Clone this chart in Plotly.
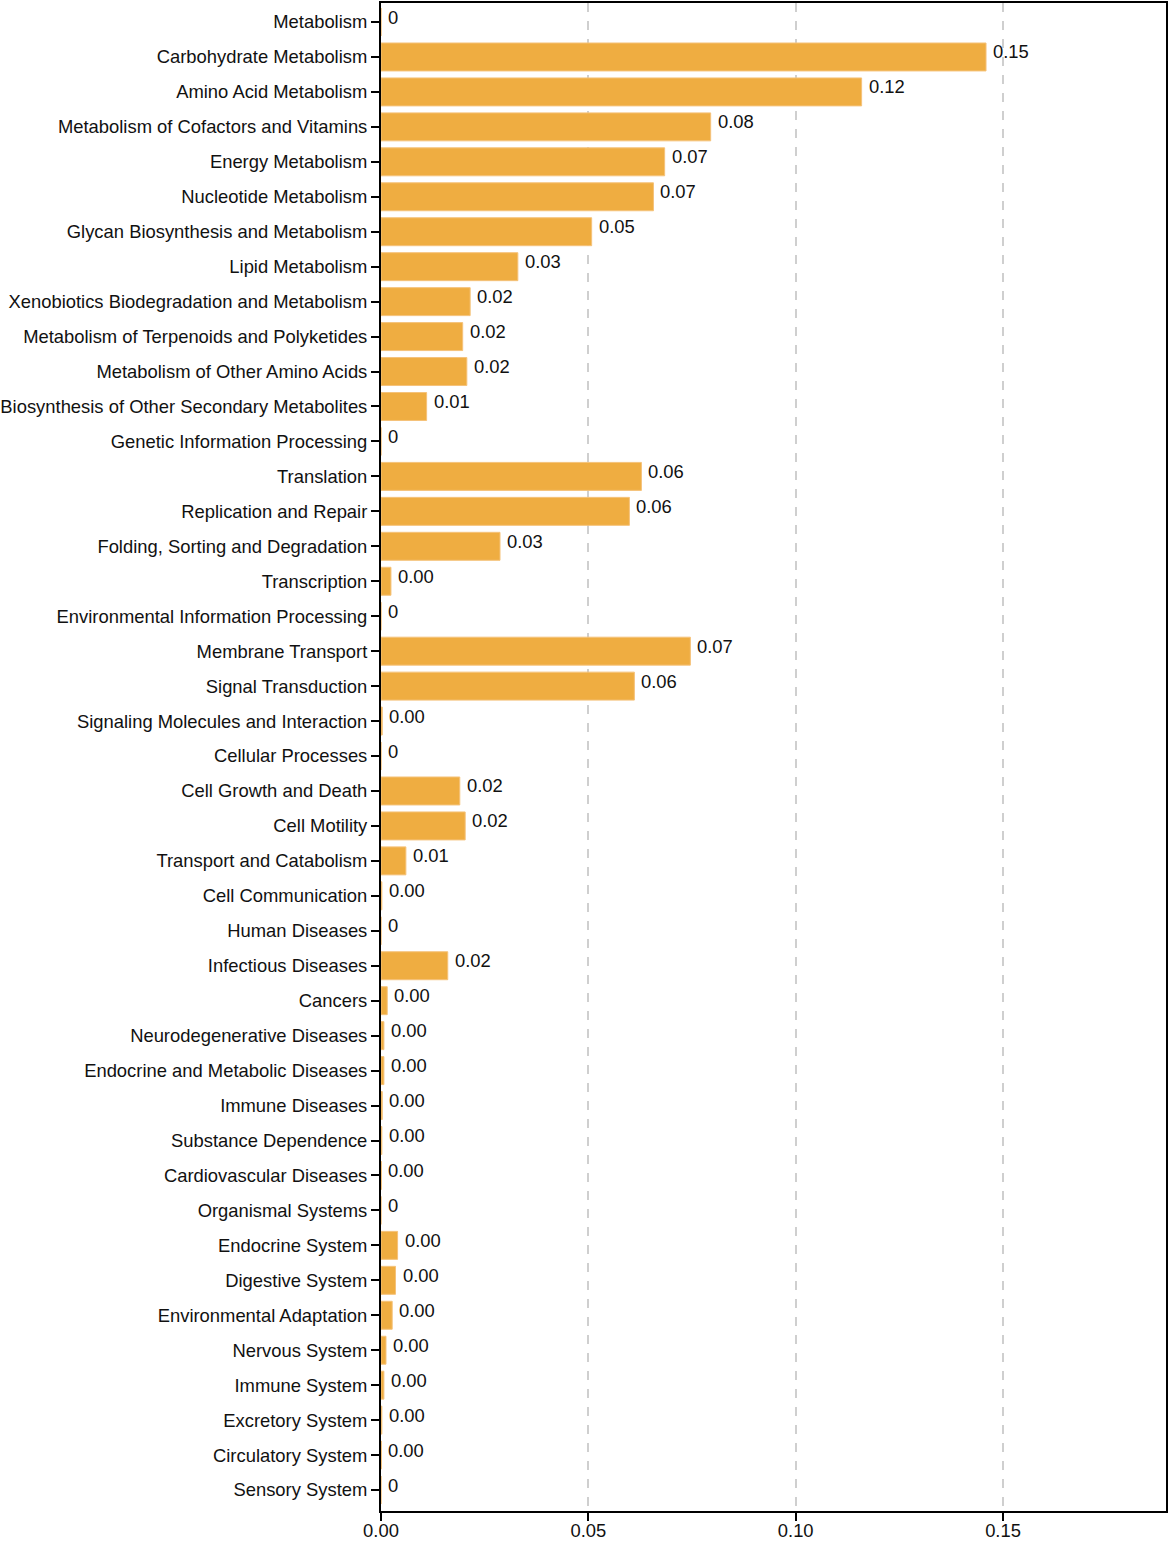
import plotly.graph_objects as go

# categories, top to bottom
categories = [
    "Metabolism", "Carbohydrate Metabolism", "Amino Acid Metabolism",
    "Metabolism of Cofactors and Vitamins", "Energy Metabolism", "Nucleotide Metabolism",
    "Glycan Biosynthesis and Metabolism", "Lipid Metabolism",
    "Xenobiotics Biodegradation and Metabolism", "Metabolism of Terpenoids and Polyketides",
    "Metabolism of Other Amino Acids", "Biosynthesis of Other Secondary Metabolites",
    "Genetic Information Processing", "Translation", "Replication and Repair",
    "Folding, Sorting and Degradation", "Transcription",
    "Environmental Information Processing", "Membrane Transport", "Signal Transduction",
    "Signaling Molecules and Interaction",
    "Cellular Processes", "Cell Growth and Death", "Cell Motility",
    "Transport and Catabolism", "Cell Communication",
    "Human Diseases", "Infectious Diseases", "Cancers", "Neurodegenerative Diseases",
    "Endocrine and Metabolic Diseases", "Immune Diseases", "Substance Dependence",
    "Cardiovascular Diseases",
    "Organismal Systems", "Endocrine System", "Digestive System",
    "Environmental Adaptation", "Nervous System", "Immune System", "Excretory System",
    "Circulatory System", "Sensory System",
]

values = [
    0, 0.1459, 0.1159,
    0.0795, 0.0684, 0.0657,
    0.0508, 0.0330,
    0.0215, 0.0197,
    0.0207, 0.0110,
    0, 0.0628, 0.0599,
    0.0287, 0.0024,
    0, 0.0746, 0.0611,
    0.0003,
    0, 0.0190, 0.0203,
    0.0060, 0.0002,
    0, 0.0161, 0.0015, 0.0007,
    0.0007, 0.0003, 0.0002,
    0.0001,
    0, 0.0040, 0.0035,
    0.0027, 0.0012, 0.0007, 0.0002,
    0.0001, 0,
]

labels = ["0" if v == 0 else f"{v:.2f}" for v in values]

bar_color = "#EFAD41"
font_family = "Arial, Liberation Sans, sans-serif"
font_size = 18.4

fig = go.Figure()
fig.add_trace(go.Bar(
    x=values, y=categories, orientation="h",
    marker=dict(color=bar_color, line=dict(color="#F5C27A", width=1)),
    width=0.8,
    hoverinfo="x+y",
))

# value labels just right of the bars, nudged up a bit like the original
for cat, v, t in zip(categories, values, labels):
    fig.add_annotation(
        x=v, y=cat, text=t, showarrow=False,
        xanchor="left", yanchor="middle", xshift=5, yshift=5,
        font=dict(size=font_size, color="#111111", family=font_family),
    )

fig.update_xaxes(
    range=[0, 0.1893],
    tickvals=[0, 0.05, 0.10, 0.15],
    ticktext=["0.00", "0.05", "0.10", "0.15"],
    ticks="outside", ticklen=8, tickwidth=2, tickcolor="black",
    ticklabelstandoff=-6,
    showline=True, linecolor="black", linewidth=2, mirror=True,
    showgrid=True, gridcolor="#CFCFCF", griddash="dash", gridwidth=1.5,
    zeroline=False, automargin=False,
    tickfont=dict(size=font_size, color="#111111", family=font_family),
)
fig.update_yaxes(
    categoryorder="array", categoryarray=categories,
    range=[len(categories) - 0.4, -0.544],
    ticks="outside", ticklen=8, tickwidth=2, tickcolor="black",
    showline=True, linecolor="black", linewidth=2, mirror=True,
    showgrid=False, automargin=False,
    tickfont=dict(size=font_size, color="#111111", family=font_family),
)

fig.update_layout(
    width=1170, height=1541,
    margin=dict(l=381, r=4, t=3, b=30),
    plot_bgcolor="white", paper_bgcolor="white",
    showlegend=False,
)

# drop the browser's default body margin so the figure sits at the page corner
fig.write_html(
    "out.html",
    config={"displayModeBar": False},
    post_script="document.body.style.margin='0';document.body.style.overflow='hidden';",
)
